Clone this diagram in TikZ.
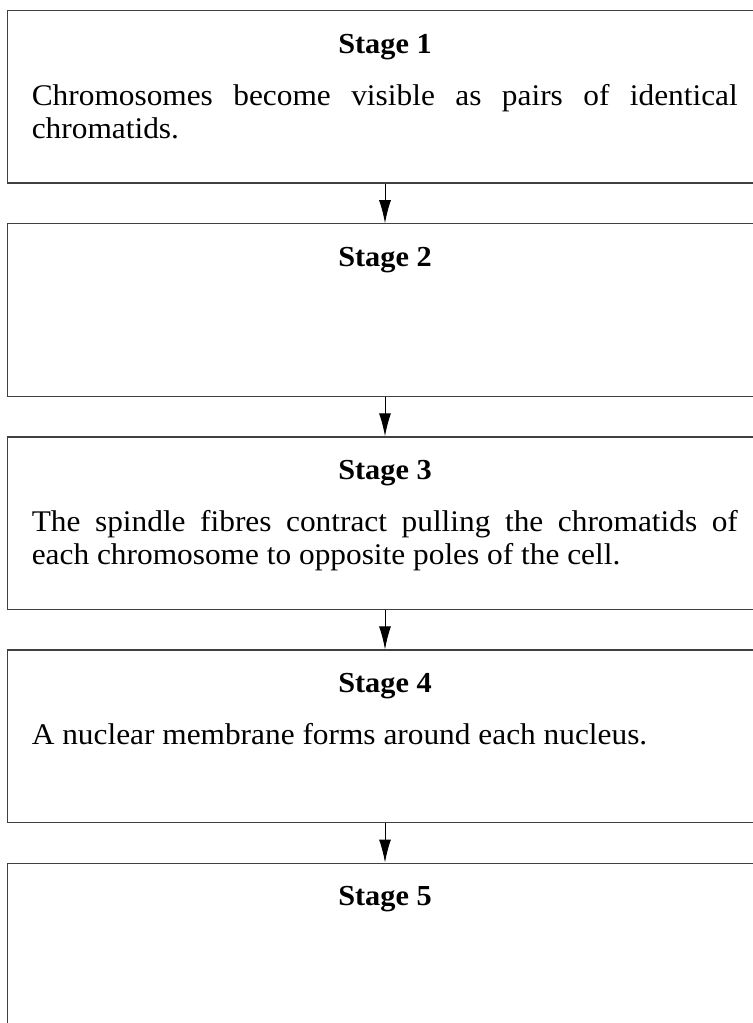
\documentclass[tikz,border=0pt]{standalone}
\usepackage{fontspec}
\setmainfont{Liberation Serif}[FakeStretch=1.045]
\usepackage{tikz}
\usetikzlibrary{positioning}
\usetikzlibrary{arrows.meta}
\colorlet{boxgray}{black!75}

\tikzset{stagebox/.style={draw=boxgray, line width=0.6pt, minimum width=377.7pt, minimum height=86.15pt, inner sep=0pt},
	stagetitle/.style={anchor=base, inner sep=0pt, font=\fontsize{14.5}{16}\selectfont\bfseries},
	stagetext/.style={anchor=base west, inner sep=0pt, text width=353pt, align=justify, font=\fontsize{15}{16.5}\selectfont}}

\begin{document}
\begin{tikzpicture}[x=0.5pt, y=-0.5pt, >={Latex[length=11.5pt,width=6pt]}, node distance=19.8pt]
				\useasboundingbox (0,0) rectangle (753,1023);\clip (0,0) rectangle (753,1023);
				\node[stagebox] (stage1) at (385,96.85) {};
				\node[stagebox, below=of stage1] (stage2) {};
				\node[stagebox, below=of stage2] (stage3) {};
				\node[stagebox, below=of stage3] (stage4) {};
				\node[stagebox, below=of stage4] (stage5) {};
				\foreach \i in {1,...,5} {\node[stagetitle] (title\i) at ([yshift=-21.5pt]stage\i.north) {Stage \i};}
				\node[stagetext] (text1) at ([shift={(12.35pt,-47.5pt)}]stage1.north west) {Chromosomes become visible as pairs of identical\linebreak chromatids.};
				\node[stagetext] (text3) at ([shift={(12.35pt,-47.5pt)}]stage3.north west) {The spindle fibres contract pulling the chromatids of\linebreak each chromosome to opposite poles of the cell.};
				\node[stagetext] (text4) at ([shift={(12.35pt,-47.5pt)}]stage4.north west) {A nuclear membrane forms around each nucleus.};
				\foreach \i/\j in {1/2,2/3,3/4,4/5} {\draw[->, line width=0.5pt] (stage\i) -- (stage\j);}
			\end{tikzpicture}
\end{document}
